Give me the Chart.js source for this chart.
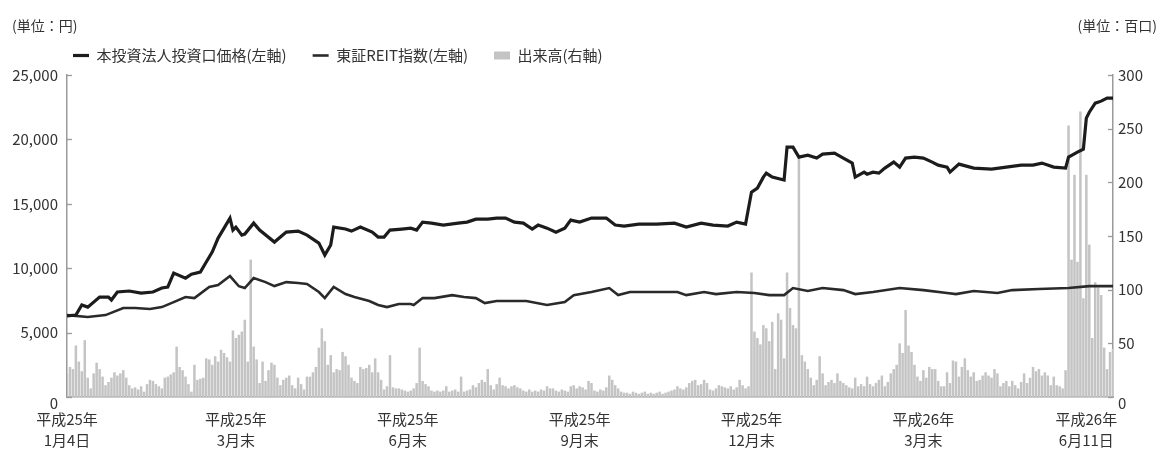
<!DOCTYPE html>
<html lang="ja">
<head>
<meta charset="utf-8">
<script src="https://cdn.jsdelivr.net/npm/chart.js@4.4.1/dist/chart.umd.min.js"></script>
<style>
html, body { margin: 0; padding: 0; background: #fff; }
#wrap { position: relative; width: 1160px; height: 454px; }
#c { position: absolute; left: 0; top: 0; }
.unit { position: absolute; top: 15px; font: 14px "Noto Sans CJK JP", sans-serif; color: #333; }
</style>
</head>
<body>
<div id="wrap">
  <canvas id="c" width="1160" height="454"></canvas>
  <div class="unit" style="left:12px">(単位：円)</div>
  <div class="unit" style="right:3px">(単位：百口)</div>
</div>
<script>
// Trading-day index (0 = 平成25年1月4日) for the labelled dates
const tickDays = [0, 57, 115, 173, 231, 289, 344];
const tickLabels = [
  ["平成25年", "1月4日"], ["平成25年", "3月末"], ["平成25年", "6月末"], ["平成25年", "9月末"],
  ["平成25年", "12月末"], ["平成26年", "3月末"], ["平成26年", "6月11日"]
];

// Unit price (円), [trading day, price]
const unitPrice = [
  [0,6300],[3,6360],[5,7140],[7,6980],[11,7760],[14,7760],[15,7530],[17,8150],[21,8230],[25,8070],
  [29,8150],[32,8460],[34,8540],[36,9620],[40,9230],[42,9540],[45,9700],[47,10480],[49,11250],[51,12340],
  [53,13110],[55,13890],[56,12960],[57,13190],[59,12570],[60,12650],[63,13500],[65,12960],[70,12030],[74,12800],
  [78,12880],[81,12570],[85,11950],[87,11020],[89,11800],[90,13190],[94,13040],[96,12880],[99,13190],[103,12800],
  [105,12420],[107,12420],[109,12960],[113,13040],[116,13110],[118,12960],[120,13580],[123,13500],[127,13350],[132,13500],
  [135,13580],[138,13810],[142,13810],[145,13890],[148,13890],[151,13580],[154,13500],[157,13040],[159,13350],[162,13110],
  [165,12800],[168,13110],[170,13730],[173,13580],[177,13890],[182,13890],[185,13350],[188,13270],[193,13420],[199,13420],
  [205,13500],[209,13190],[214,13500],[218,13350],[223,13270],[226,13580],[229,13420],[231,15910],[233,16220],[235,17070],
  [236,17380],[237,17230],[238,17070],[242,16840],[243,19400],[245,19400],[247,18620],[250,18780],[253,18550],[255,18860],
  [259,18930],[262,18550],[265,18160],[266,17070],[269,17460],[270,17300],[272,17460],[274,17380],[276,17770],[279,18240],
  [281,17850],[283,18550],[286,18620],[289,18550],[292,18240],[294,18000],[297,17850],[298,17460],[301,18080],[306,17770],
  [312,17690],[317,17850],[322,18000],[326,18000],[329,18160],[333,17850],[337,17770],[338,18620],[341,19010],[343,19240],
  [344,21650],[345,22110],[347,22810],[349,22970],[351,23200],[353,23200]
];

// TSE REIT index rebased to the unit price, [trading day, value]
const reitIndex = [
  [0,6360],[7,6210],[13,6360],[19,6910],[23,6910],[28,6830],[32,6980],[36,7370],[40,7760],[43,7680],
  [48,8540],[51,8690],[55,9390],[58,8600],[60,8460],[63,9230],[67,8920],[70,8610],[74,8920],[78,8850],
  [81,8770],[85,8150],[87,7680],[90,8540],[94,7990],[97,7760],[102,7450],[105,7140],[108,6980],[112,7220],
  [116,7220],[117,7140],[120,7680],[124,7680],[130,7910],[134,7760],[138,7680],[141,7290],[145,7450],[151,7450],
  [155,7450],[162,7140],[168,7370],[171,7910],[177,8150],[183,8460],[186,7910],[190,8150],[199,8150],[206,8150],
  [209,7910],[215,8150],[219,7990],[226,8150],[232,8070],[237,7910],[242,7910],[245,8460],[250,8230],[255,8460],
  [262,8300],[266,7990],[272,8150],[281,8460],[289,8300],[297,8070],[300,7990],[306,8230],[314,8070],[319,8300],
  [328,8380],[338,8460],[345,8610],[353,8610]
];

// Daily trading volume (百口), one value per trading day
const volume = [
  22,28,26,48,33,24,53,18,8,22, 32,26,19,11,14,18,23,20,22,25,
  18,11,8,9,7,10,5,12,16,15, 12,10,8,18,19,21,23,47,28,25,
  19,12,5,30,16,17,18,36,35,30, 38,33,44,41,37,33,62,55,58,61,
  72,33,128,47,35,13,33,15,25,32, 30,18,11,16,18,20,11,8,18,12,
  7,19,19,23,28,46,64,52,30,39, 23,26,25,42,38,30,18,15,13,28,
  26,27,30,23,36,23,16,7,10,39, 9,8,8,7,6,5,6,8,13,46,
  15,12,10,6,5,6,5,6,10,5, 6,7,5,19,5,6,7,11,9,13,
  16,14,26,11,7,12,18,11,10,8, 10,11,9,8,6,5,7,5,6,5,
  7,6,10,8,8,6,5,7,6,5, 10,11,8,10,9,7,15,13,6,5,
  7,6,9,20,16,11,8,5,4,4, 3,5,4,3,4,5,3,4,3,4,
  5,3,4,5,6,7,10,8,7,9, 13,15,16,11,12,16,13,7,6,8,
  11,10,9,8,10,7,9,16,11,8, 10,116,61,55,49,67,64,52,70,26,
  78,72,36,116,83,67,64,223,39,33, 26,18,11,16,38,22,11,14,16,13,
  22,15,13,11,9,8,18,10,12,10, 19,12,10,13,16,20,10,14,22,26,
  30,50,41,81,48,42,30,19,15,25, 18,28,26,26,15,10,10,23,13,34,
  33,19,28,36,25,19,23,15,16,20, 23,20,18,26,22,10,13,15,10,15,
  11,8,14,22,13,18,28,24,26,20, 23,20,11,19,11,10,8,25,253,128,
  207,126,266,92,207,142,55,107,102,95, 46,26,42,45
];

const FONT = '"Noto Sans CJK JP", "Noto Sans", sans-serif';
const AXIS_GREY = '#9a9a9a';
const LEGEND_INDENT = 47;
Chart.defaults.font.family = FONT;
Chart.defaults.color = '#333';

// short tick marks pointing into the plot area on both value axes
const innerTicks = {
  id: 'innerTicks',
  afterDatasetsDraw(chart) {
    const { ctx, chartArea } = chart;
    ctx.save();
    ctx.strokeStyle = AXIS_GREY;
    ctx.lineWidth = 1.3;
    [['y', 1], ['y1', -1]].forEach(([id, dir]) => {
      const s = chart.scales[id];
      const x0 = dir > 0 ? chartArea.left : chartArea.right;
      s.ticks.forEach(t => {
        const y = Math.round(s.getPixelForValue(t.value)) + 0.5;
        ctx.beginPath();
        ctx.moveTo(x0, y);
        ctx.lineTo(x0 + dir * 5, y);
        ctx.stroke();
      });
    });
    ctx.restore();
  }
};

// indent the legend row so it starts just right of the left axis
const legendIndent = {
  id: 'legendIndent',
  afterLayout(chart) {
    const lg = chart.legend;
    if (lg) {
      lg.left += LEGEND_INDENT;
      lg.right += LEGEND_INDENT;
      lg.top -= 2;
      lg.bottom -= 2;
    }
  }
};

// the zero label sits just under the baseline on both value axes
const zeroLow = (text) => (v) => v === 0 ? ['', '0'] : text(v);

new Chart(document.getElementById('c'), {
  type: 'line',
  data: {
    datasets: [
      {
        type: 'line', label: '本投資法人投資口価格(左軸)',
        data: unitPrice.map(([x, y]) => ({ x, y })),
        yAxisID: 'y', borderColor: '#1c1c1c', backgroundColor: '#1c1c1c',
        borderWidth: 3.2, pointRadius: 0, tension: 0, pointStyle: 'line', order: 0
      },
      {
        type: 'line', label: '東証REIT指数(左軸)',
        data: reitIndex.map(([x, y]) => ({ x, y })),
        yAxisID: 'y', borderColor: '#2a2a2a', backgroundColor: '#2a2a2a',
        borderWidth: 2.6, pointRadius: 0, tension: 0, pointStyle: 'line', order: 1
      },
      {
        type: 'bar', label: '出来高(右軸)',
        data: volume.map((y, x) => ({ x, y })),
        yAxisID: 'y1', backgroundColor: '#c4c4c4', borderWidth: 0,
        barPercentage: 0.85, categoryPercentage: 1, pointStyle: 'rect', order: 2
      }
    ]
  },
  options: {
    responsive: false,
    animation: false,
    devicePixelRatio: 1,
    layout: { padding: { top: 24, left: 0, right: 0, bottom: 0 } },
    plugins: {
      tooltip: { enabled: false },
      legend: {
        position: 'top', align: 'start',
        labels: {
          usePointStyle: true, pointStyleWidth: 16, boxHeight: 8,
          padding: 26, color: '#333', font: { size: 15, family: FONT }
        }
      }
    },
    scales: {
      x: {
        type: 'linear', position: 'bottom', min: 0, max: 353, offset: false,
        grid: { display: false, drawTicks: false, offset: false },
        border: { display: true, color: AXIS_GREY, width: 1.5 },
        afterBuildTicks: s => { s.ticks = tickDays.map(v => ({ value: v })); },
        afterFit: s => { s.height = 57; },
        ticks: {
          autoSkip: false, maxRotation: 0, padding: 12, color: '#333',
          font: { size: 15, lineHeight: 1.4 },
          callback: (v, i) => tickLabels[i]
        }
      },
      y: {
        position: 'left', min: 0, max: 25000,
        grid: { display: false, drawTicks: false },
        border: { display: true, color: AXIS_GREY, width: 1.5 },
        afterFit: s => { s.width = 67; },
        ticks: {
          stepSize: 5000, padding: 9, color: '#333', font: { size: 15, lineHeight: 0.8 },
          callback: zeroLow(v => v.toLocaleString('en-US'))
        }
      },
      y1: {
        position: 'right', min: 0, max: 300,
        grid: { display: false, drawTicks: false },
        border: { display: true, color: AXIS_GREY, width: 1.5 },
        afterFit: s => { s.width = 47; },
        ticks: {
          stepSize: 50, padding: 5, color: '#333', font: { size: 15, lineHeight: 0.8 },
          callback: zeroLow(v => String(v))
        }
      }
    }
  },
  plugins: [innerTicks, legendIndent]
});
</script>
</body>
</html>
